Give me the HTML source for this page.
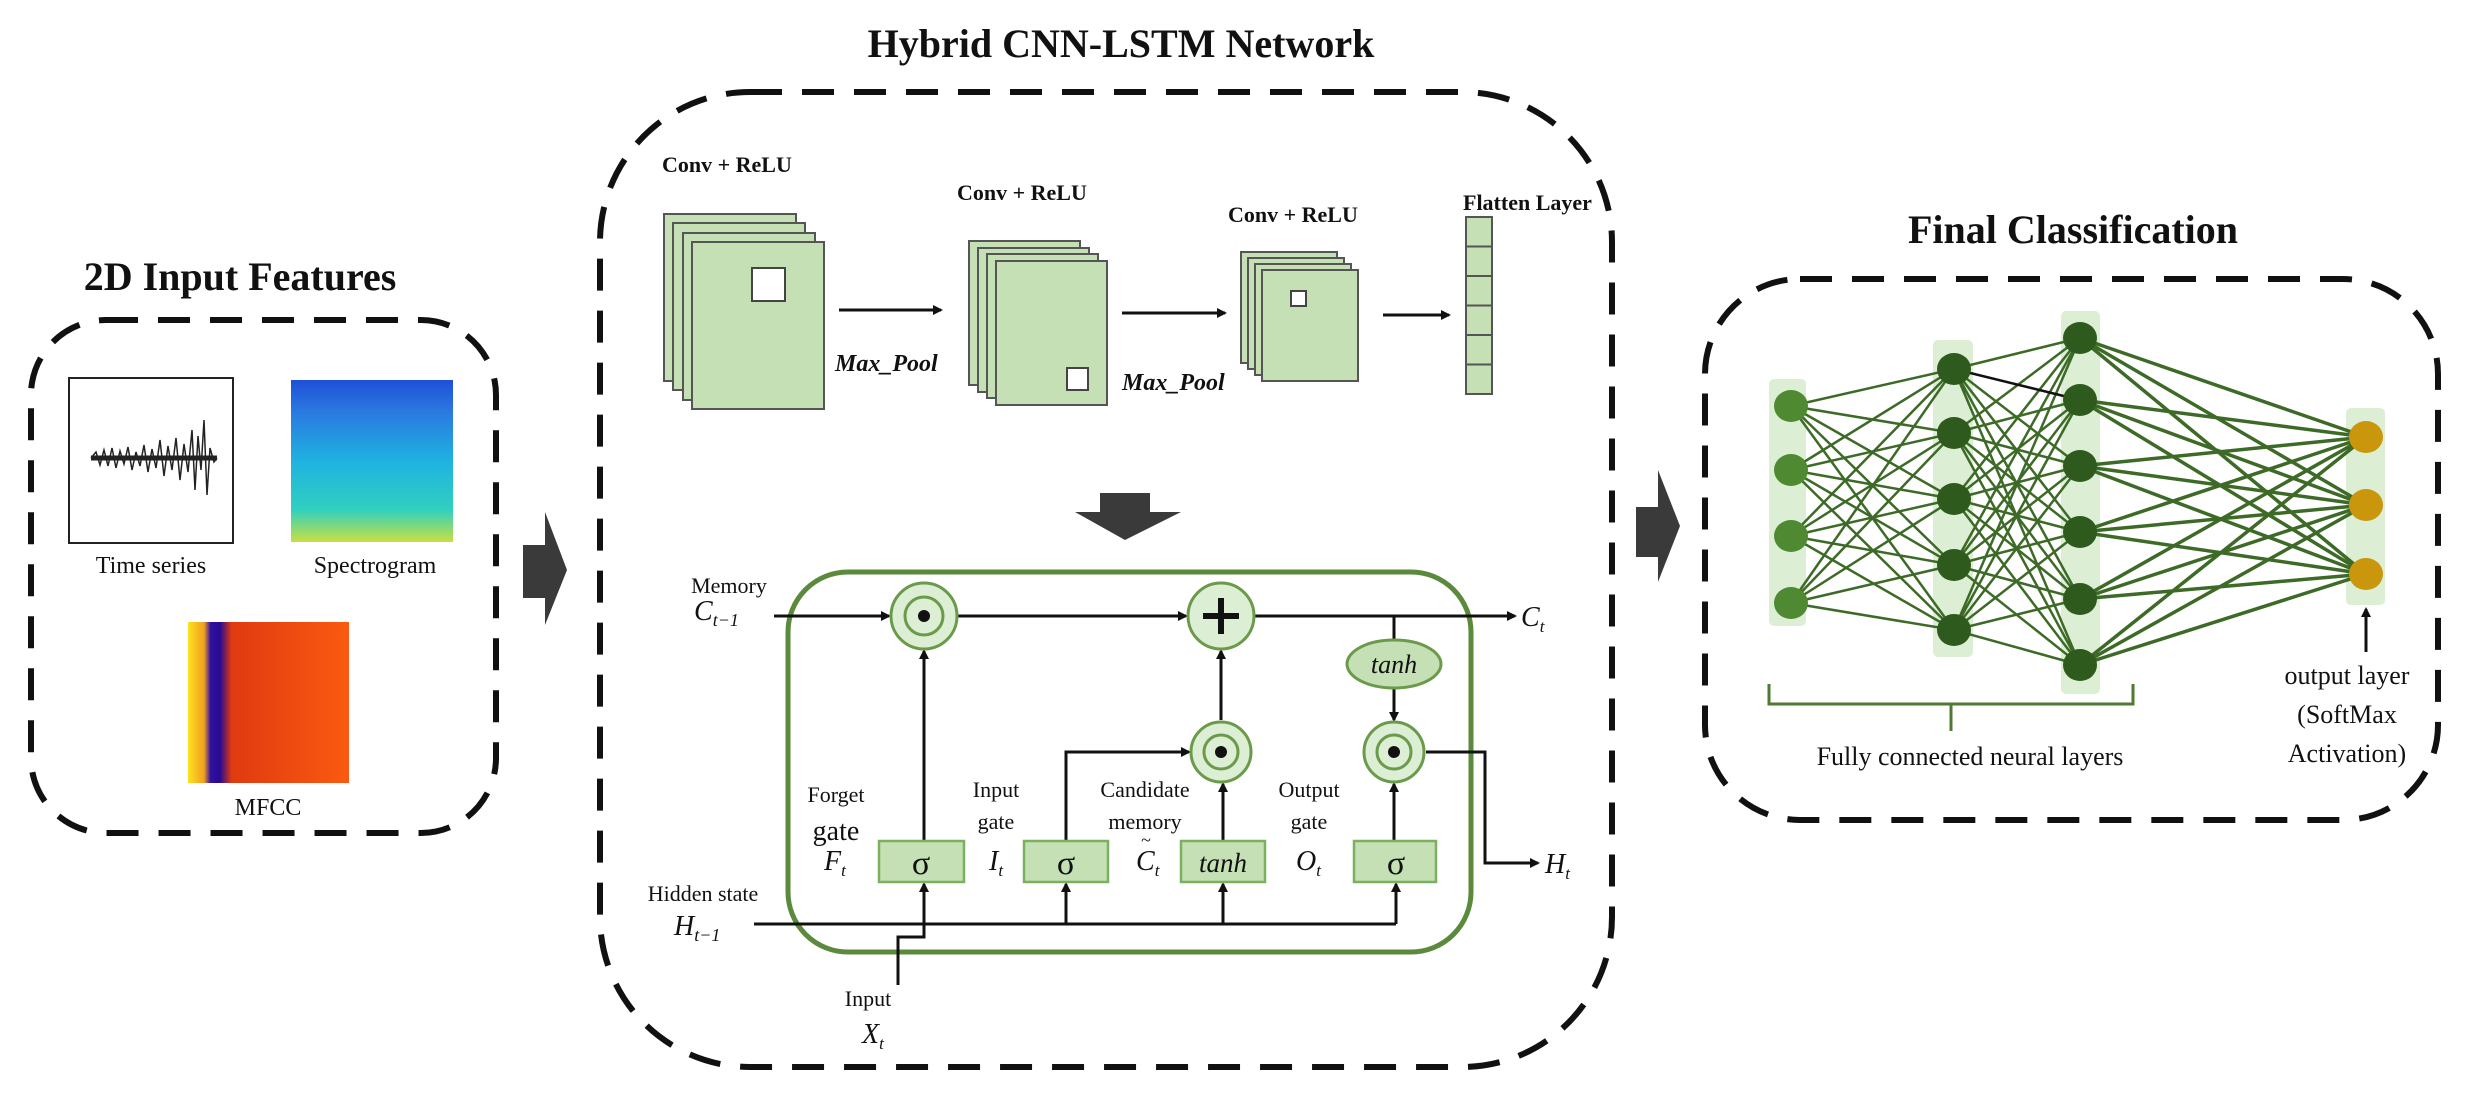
<!DOCTYPE html>
<html><head><meta charset="utf-8"><style>
html,body{margin:0;padding:0;background:#fff}
svg{display:block}
text{font-family:"Liberation Serif",serif;fill:#111}
</style></head><body>
<svg width="2470" height="1099" viewBox="0 0 2470 1099" xmlns="http://www.w3.org/2000/svg">
<defs>
<marker id="ah" markerWidth="10" markerHeight="10" refX="8" refY="5" orient="auto" markerUnits="userSpaceOnUse"><path d="M0,0 L10,5 L0,10 Z" fill="#111"/></marker>
<marker id="ahs" markerWidth="14" markerHeight="14" refX="12" refY="7" orient="auto" markerUnits="userSpaceOnUse"><path d="M0,0 L14,7 L0,14 Z" fill="#111"/></marker>
<linearGradient id="spec" x1="0" y1="0" x2="0" y2="1">
<stop offset="0" stop-color="#1f4fd8"/><stop offset="0.2" stop-color="#2a7ae0"/><stop offset="0.5" stop-color="#1fb2e0"/><stop offset="0.8" stop-color="#30d0c0"/><stop offset="1" stop-color="#c8e040"/></linearGradient>
<linearGradient id="mfcc" x1="0" y1="0" x2="1" y2="0">
<stop offset="0" stop-color="#ffe020"/><stop offset="0.1" stop-color="#f0a020"/><stop offset="0.14" stop-color="#3010a0"/><stop offset="0.2" stop-color="#2a0a90"/><stop offset="0.27" stop-color="#e03a10"/><stop offset="1" stop-color="#fa5a10"/></linearGradient>
</defs>

<!-- Titles -->
<text x="240" y="290" font-size="40" font-weight="bold" text-anchor="middle">2D Input Features</text>
<text x="1121" y="57" font-size="40" font-weight="bold" text-anchor="middle">Hybrid CNN-LSTM  Network</text>
<text x="2073" y="243" font-size="40" font-weight="bold" text-anchor="middle">Final Classification</text>

<!-- Dashed boxes -->
<g fill="none" stroke="#111" stroke-width="6" stroke-dasharray="32,20">
<rect x="31" y="320" width="465" height="513" rx="75"/>
<rect x="600" y="92" width="1012" height="975" rx="150"/>
<rect x="1705" y="279" width="733" height="541" rx="95"/>
</g>

<!-- Left content -->
<rect x="69" y="378" width="164" height="165" fill="#fff" stroke="#222" stroke-width="2"/>
<g stroke="#222" fill="none">
<line x1="91" y1="458" x2="217" y2="458" stroke-width="5"/>
<polyline stroke-width="1.5" points="91,458 96,452 100,465 104,450 108,466 112,448 116,468 120,451 124,464 128,447 132,470 136,452 140,466 144,445 148,472 152,449 156,468 160,440 164,476 168,446 172,470 176,438 180,480 184,444 188,472 192,430 195,490 198,436 201,470 204,420 207,495 210,448 214,462 217,458"/>
</g>
<text x="151" y="573" font-size="24" text-anchor="middle">Time series</text>
<rect x="291" y="380" width="162" height="162" fill="url(#spec)"/>
<text x="375" y="573" font-size="24" text-anchor="middle">Spectrogram</text>
<rect x="188" y="622" width="161" height="161" fill="url(#mfcc)"/>
<text x="268" y="815" font-size="24" text-anchor="middle">MFCC</text>

<!-- Block arrows -->
<path d="M523,545 L545,545 L545,512 L567,570 L545,625 L545,598 L523,598 Z" fill="#3a3a3a"/>
<path d="M1636,507 L1658,507 L1658,470 L1680,526 L1658,582 L1658,557 L1636,557 Z" fill="#3a3a3a"/>
<path d="M1100,493 L1150,493 L1150,512 L1181,512 L1125,540 L1075,512 L1100,512 Z" fill="#3a3a3a"/>

<!-- CNN -->
<g font-size="22" font-weight="bold">
<text x="662" y="172">Conv + ReLU</text>
<text x="957" y="200">Conv + ReLU</text>
<text x="1228" y="222">Conv + ReLU</text>
<text x="1463" y="210">Flatten Layer</text>
</g>
<g fill="#c5e0b4" stroke="#555" stroke-width="2">
<rect x="664" y="214" width="132" height="167"/><rect x="673" y="223" width="132" height="167"/><rect x="683" y="233" width="132" height="167"/><rect x="692" y="242" width="132" height="167"/>
<rect x="969" y="241" width="111" height="144"/><rect x="978" y="248" width="111" height="144"/><rect x="987" y="254" width="111" height="144"/><rect x="996" y="261" width="111" height="144"/>
<rect x="1241" y="252" width="96" height="111"/><rect x="1248" y="258" width="96" height="111"/><rect x="1255" y="264" width="96" height="111"/><rect x="1262" y="270" width="96" height="111"/>
</g>
<g fill="#fff" stroke="#444" stroke-width="2">
<rect x="752" y="268" width="33" height="33"/>
<rect x="1067" y="368" width="21" height="22"/>
<rect x="1291" y="291" width="15" height="15"/>
</g>
<g fill="#c5e0b4" stroke="#555" stroke-width="2">
<rect x="1466" y="217" width="26" height="29.5"/><rect x="1466" y="246.5" width="26" height="29.5"/><rect x="1466" y="276" width="26" height="29.5"/><rect x="1466" y="305.5" width="26" height="29.5"/><rect x="1466" y="335" width="26" height="29.5"/><rect x="1466" y="364.5" width="26" height="29.5"/>
</g>
<g stroke="#111" stroke-width="3" marker-end="url(#ah)">
<line x1="839" y1="310" x2="941" y2="310"/>
<line x1="1122" y1="313" x2="1225" y2="313"/>
<line x1="1383" y1="315" x2="1449" y2="315"/>
</g>
<g font-size="24" font-weight="bold" font-style="italic">
<text x="835" y="371">Max_Pool</text>
<text x="1122" y="390">Max_Pool</text>
</g>

<!-- LSTM -->
<rect x="788" y="572" width="683" height="380" rx="60" fill="none" stroke="#5b8a3c" stroke-width="5"/>
<g stroke="#111" stroke-width="3" fill="none">
<line x1="774" y1="616" x2="889" y2="616" marker-end="url(#ah)"/>
<line x1="957" y1="616" x2="1186" y2="616" marker-end="url(#ah)"/>
<line x1="1254" y1="616" x2="1515" y2="616" marker-end="url(#ah)"/>
<line x1="1394" y1="616" x2="1394" y2="640"/>
<line x1="1394" y1="688" x2="1394" y2="720" marker-end="url(#ah)"/>
<line x1="924" y1="841" x2="924" y2="651" marker-end="url(#ah)"/>
<polyline points="1066,841 1066,752 1189,752" marker-end="url(#ah)"/>
<line x1="1223" y1="841" x2="1223" y2="784" marker-end="url(#ah)"/>
<line x1="1221" y1="720" x2="1221" y2="651" marker-end="url(#ah)"/>
<line x1="1394" y1="841" x2="1394" y2="784" marker-end="url(#ah)"/>
<polyline points="1426,752 1485,752 1485,863 1538,863" marker-end="url(#ah)"/>
<line x1="754" y1="924" x2="1396" y2="924"/>
<line x1="1066" y1="924" x2="1066" y2="884" marker-end="url(#ah)"/>
<line x1="1223" y1="924" x2="1223" y2="884" marker-end="url(#ah)"/>
<line x1="1396" y1="924" x2="1396" y2="884" marker-end="url(#ah)"/>
<polyline points="898,985 898,937 924,937 924,884" marker-end="url(#ah)"/>
</g>
<!-- circles -->
<g stroke="#6a9a4a" stroke-width="3" fill="#dcefd5">
<circle cx="924" cy="616" r="33"/><circle cx="1221" cy="616" r="33"/>
<circle cx="1221" cy="752" r="30"/><circle cx="1394" cy="752" r="30"/>
<ellipse cx="1394" cy="664" rx="47" ry="24" fill="#c5e0b4"/>
</g>
<g stroke="#6a9a4a" stroke-width="3" fill="none">
<circle cx="924" cy="616" r="19"/><circle cx="1221" cy="752" r="17"/><circle cx="1394" cy="752" r="17"/>
</g>
<g fill="#111"><circle cx="924" cy="616" r="6"/><circle cx="1221" cy="752" r="6"/><circle cx="1394" cy="752" r="6"/></g>
<path d="M1221,598 V634 M1203,616 H1239" stroke="#111" stroke-width="6"/>
<text x="1394" y="673" font-size="26" font-style="italic" text-anchor="middle">tanh</text>
<g fill="#c5e0b4" stroke="#7ab060" stroke-width="2.5">
<rect x="879" y="841" width="85" height="41"/><rect x="1024" y="841" width="84" height="41"/><rect x="1181" y="841" width="84" height="41"/><rect x="1354" y="841" width="82" height="41"/>
</g>
<g font-size="34" text-anchor="middle">
<text x="921" y="874">σ</text><text x="1066" y="874">σ</text><text x="1396" y="874">σ</text>
</g>
<text x="1223" y="872" font-size="27" font-style="italic" text-anchor="middle">tanh</text>
<g font-size="22" text-anchor="middle">
<text x="729" y="593">Memory</text>
<text x="703" y="901">Hidden state</text>
<text x="836" y="802">Forget</text>
<text x="996" y="797">Input</text><text x="996" y="829">gate</text>
<text x="1145" y="797">Candidate</text><text x="1145" y="829">memory</text>
<text x="1309" y="797">Output</text><text x="1309" y="829">gate</text>
<text x="868" y="1006">Input</text>
</g>
<text x="836" y="840" font-size="28" text-anchor="middle">gate</text>
<g font-size="28" font-style="italic">
<text x="694" y="620">C<tspan font-size="18" dy="6">t−1</tspan></text>
<text x="674" y="935">H<tspan font-size="18" dy="6">t−1</tspan></text>
<text x="1521" y="626">C<tspan font-size="17" dy="6">t</tspan></text>
<text x="1545" y="873">H<tspan font-size="17" dy="6">t</tspan></text>
<text x="824" y="870">F<tspan font-size="17" dy="6">t</tspan></text>
<text x="989" y="870">I<tspan font-size="17" dy="6">t</tspan></text>
<text x="1136" y="870">C<tspan font-size="17" dy="6">t</tspan></text>
<text x="1296" y="870">O<tspan font-size="17" dy="6">t</tspan></text>
<text x="862" y="1043">X<tspan font-size="17" dy="6">t</tspan></text>
</g>
<text x="1146" y="846" font-size="18" text-anchor="middle">~</text>

<!-- FC network -->
<g fill="#dcefd5">
<rect x="1769" y="379" width="37" height="247" rx="5"/>
<rect x="1933" y="340" width="40" height="317" rx="5"/>
<rect x="2061" y="311" width="39" height="383" rx="5"/>
<rect x="2346" y="408" width="39" height="197" rx="5"/>
</g>
<g stroke="#3d6b27" stroke-width="2.5" fill="none">
<path d="M1791,406L1954,369M1791,406L1954,433M1791,406L1954,499M1791,406L1954,565M1791,406L1954,630M1791,470L1954,369M1791,470L1954,433M1791,470L1954,499M1791,470L1954,565M1791,470L1954,630M1791,536L1954,369M1791,536L1954,433M1791,536L1954,499M1791,536L1954,565M1791,536L1954,630M1791,603L1954,369M1791,603L1954,433M1791,603L1954,499M1791,603L1954,565M1791,603L1954,630"/>
<path d="M1954,369L2080,338M1954,369L2080,466M1954,369L2080,532M1954,369L2080,599M1954,369L2080,665M1954,433L2080,338M1954,433L2080,400M1954,433L2080,466M1954,433L2080,532M1954,433L2080,599M1954,433L2080,665M1954,499L2080,338M1954,499L2080,400M1954,499L2080,466M1954,499L2080,532M1954,499L2080,599M1954,499L2080,665M1954,565L2080,338M1954,565L2080,400M1954,565L2080,466M1954,565L2080,532M1954,565L2080,599M1954,565L2080,665M1954,630L2080,338M1954,630L2080,400M1954,630L2080,466M1954,630L2080,532M1954,630L2080,599M1954,630L2080,665"/>
<path stroke-width="3.5" d="M2080,338L2366,437M2080,338L2366,505M2080,338L2366,574M2080,400L2366,437M2080,400L2366,505M2080,400L2366,574M2080,466L2366,437M2080,466L2366,505M2080,466L2366,574M2080,532L2366,437M2080,532L2366,505M2080,532L2366,574M2080,599L2366,437M2080,599L2366,505M2080,599L2366,574M2080,665L2366,437M2080,665L2366,505M2080,665L2366,574"/>
</g>
<line x1="1954" y1="369" x2="2080" y2="400" stroke="#111" stroke-width="2.5"/>
<g fill="#4f8a33"><ellipse cx="1791" cy="406" rx="17" ry="16"/><ellipse cx="1791" cy="470" rx="17" ry="16"/><ellipse cx="1791" cy="536" rx="17" ry="16"/><ellipse cx="1791" cy="603" rx="17" ry="16"/></g>
<g fill="#2f5a1e">
<ellipse cx="1954" cy="369" rx="17" ry="16"/><ellipse cx="1954" cy="433" rx="17" ry="16"/><ellipse cx="1954" cy="499" rx="17" ry="16"/><ellipse cx="1954" cy="565" rx="17" ry="16"/><ellipse cx="1954" cy="630" rx="17" ry="16"/>
<ellipse cx="2080" cy="338" rx="17" ry="16"/><ellipse cx="2080" cy="400" rx="17" ry="16"/><ellipse cx="2080" cy="466" rx="17" ry="16"/><ellipse cx="2080" cy="532" rx="17" ry="16"/><ellipse cx="2080" cy="599" rx="17" ry="16"/><ellipse cx="2080" cy="665" rx="17" ry="16"/>
</g>
<g fill="#c9960c"><ellipse cx="2366" cy="437" rx="17" ry="16"/><ellipse cx="2366" cy="505" rx="17" ry="16"/><ellipse cx="2366" cy="574" rx="17" ry="16"/></g>
<path d="M1769,684 V704 H2133 V684 M1951,704 V731" fill="none" stroke="#4f7a33" stroke-width="3"/>
<text x="1970" y="765" font-size="26" text-anchor="middle">Fully connected neural layers</text>
<line x1="2366" y1="652" x2="2366" y2="609" stroke="#111" stroke-width="3" marker-end="url(#ah)"/>
<g font-size="26" text-anchor="middle">
<text x="2347" y="684">output layer</text>
<text x="2347" y="723">(SoftMax</text>
<text x="2347" y="762">Activation)</text>
</g>
</svg>
</body></html>
